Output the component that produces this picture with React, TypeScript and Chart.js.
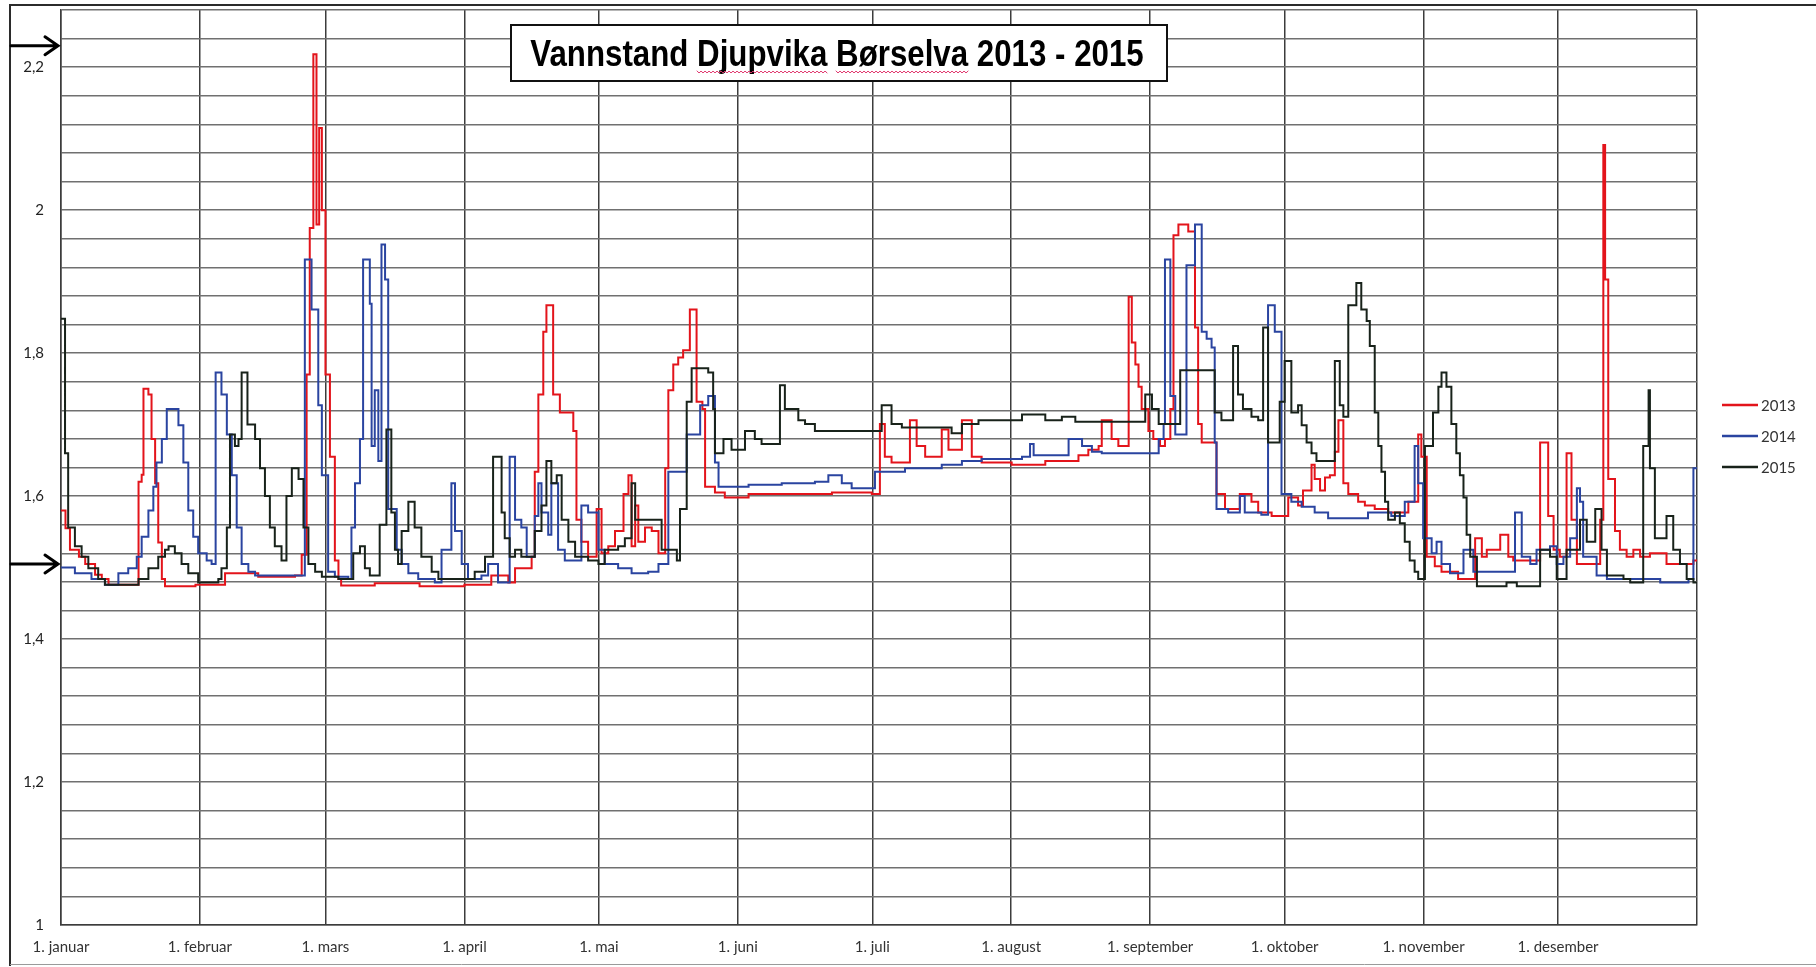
import React, { useEffect, useRef } from "react";
import { Chart, registerables } from "chart.js";

Chart.register(...registerables);

// ---------- axis definitions ----------
const MONTH_DAYS = [0, 31, 59, 90, 120, 151, 181, 212, 243, 273, 304, 334];
const MONTH_LABELS = [
  "1. januar", "1. februar", "1. mars", "1. april", "1. mai", "1. juni",
  "1. juli", "1. august", "1. september", "1. oktober", "1. november", "1. desember",
];
const YEAR_END = 365;
const Y_MIN = 1;
const Y_MAX = 2.28;
const Y_GRID_STEP = 0.04;
const Y_LABEL_STEP = 0.2;
const Y_LABEL_MAX = 2.2;
const ARROW_LEVELS = [2.23, 1.505];

const TITLE = "Vannstand Djupvika Børselva 2013 - 2015";
const SPELL_MARKED = ["Djupvika", "Børselva"];
const SERIES_LABELS = ["2013", "2014", "2015"];
const SERIES_COLORS = ["#e3141b", "#2a44a0", "#18221a"];

// ---------- 2013 (day of year, water level) ----------
const RED_DAYS = [
  0, 1, 2, 4, 5.4, 7.6, 9.1, 10.6, 17.3, 18, 18.4, 19.5, 20.2, 21, 21.7, 22.5, 23.2, 30, 36.6, 44,
  52.2, 53.7, 54.8, 55.5, 56.3, 57, 57.6, 58.2, 59, 60, 61.1, 61.9, 62.5, 70, 80, 90, 96, 99.8, 101.3, 105,
  105.7, 106.5, 107.6, 108.3, 109.8, 111.3, 114.3, 115, 116.1, 117.6, 119.5, 120.6, 122.1, 123.6, 125.5, 126.6, 127.3, 128.1, 128.8, 130.3,
  131.8, 133.3, 134.8, 135.5, 136.6, 137.7, 138.8, 140.3, 141.8, 143.1, 143.7, 145.9, 148.1, 153.4, 172, 180.9, 182.7, 183.8, 185.3, 189.4,
  190.9, 192.8, 196.5, 198, 201, 203.2, 205.4, 212.1, 219.6, 227, 229.2, 231.5, 232.2, 234.4, 235.9, 238.2, 238.9, 239.7, 240.4, 241.1,
  242.6, 243.7, 245.2, 246.3, 247.5, 248.2, 249.3, 251.5, 253, 253.7, 254.5, 257.8, 259.7, 263, 265.6, 267.1, 270.1, 273.8, 276, 277.1,
  279, 279.7, 280.9, 282, 283.1, 284.2, 285, 286.1, 287.2, 289.4, 290.9, 293.1, 296.1, 300.6, 302.8, 303.5, 304.7, 306.5, 308, 311.7,
  315.5, 317, 318.1, 321.1, 322.9, 324, 330, 331.8, 333, 334.4, 335.9, 337, 338.2, 343.4, 344.1, 344.5, 345.2, 346.7, 347.8, 349.3,
  350.8, 352.3, 354.5, 358.2, 364.2, 365,
];
const RED_LEVELS = [
  1.58, 1.555, 1.525, 1.515, 1.505, 1.49, 1.484, 1.476, 1.62, 1.63, 1.75, 1.742, 1.68, 1.618, 1.535, 1.484, 1.474, 1.476, 1.492, 1.487,
  1.489, 1.518, 1.77, 1.975, 2.218, 1.98, 2.115, 2.0, 1.77, 1.655, 1.51, 1.484, 1.475, 1.478, 1.474, 1.476, 1.489, 1.479, 1.499, 1.515,
  1.634, 1.742, 1.83, 1.867, 1.742, 1.717, 1.691, 1.567, 1.536, 1.515, 1.582, 1.52, 1.53, 1.551, 1.603, 1.629, 1.53, 1.587, 1.536, 1.556,
  1.551, 1.52, 1.639, 1.748, 1.784, 1.794, 1.804, 1.861, 1.732, 1.722, 1.613, 1.605, 1.598, 1.603, 1.605, 1.603, 1.701, 1.655, 1.647, 1.706,
  1.67, 1.655, 1.693, 1.665, 1.706, 1.655, 1.647, 1.644, 1.649, 1.657, 1.665, 1.67, 1.706, 1.68, 1.67, 1.879, 1.815, 1.784, 1.753, 1.722,
  1.691, 1.68, 1.67, 1.68, 1.722, 1.965, 1.98, 1.97, 1.836, 1.701, 1.675, 1.603, 1.582, 1.603, 1.592, 1.577, 1.572, 1.598, 1.587, 1.608,
  1.644, 1.624, 1.608, 1.626, 1.629, 1.662, 1.706, 1.618, 1.603, 1.592, 1.587, 1.582, 1.577, 1.592, 1.686, 1.655, 1.515, 1.502, 1.494, 1.484,
  1.541, 1.515, 1.525, 1.546, 1.515, 1.51, 1.675, 1.572, 1.525, 1.515, 1.66, 1.567, 1.505, 1.567, 2.091, 1.903, 1.624, 1.551, 1.525, 1.515,
  1.525, 1.515, 1.52, 1.505, 1.51, 1.51,
];

// ---------- 2014 ----------
const BLUE_DAYS = [
  0, 3.1, 6.8, 9.8, 12.8, 15, 16.9, 18, 19.5, 20.6, 21.3, 22.5, 23.6, 26.2, 27.3, 28.4, 29.5, 30.6, 32.5, 33.6,
  34.5, 35.8, 37, 38.1, 39.2, 40.3, 41.8, 43.3, 54.4, 55.9, 57.4, 58.2, 59.6, 61.1, 64.1, 64.8, 65.6, 66.7, 67.4, 68.9,
  69.3, 70, 70.8, 71.5, 72.3, 73, 74.9, 76, 77.5, 79.7, 83.4, 84.9, 87.1, 87.9, 89.4, 90.8, 93.8, 95.3, 97.5, 100.1,
  101.3, 102.7, 103.9, 105.7, 106.5, 107.2, 108.7, 109.4, 110.9, 112.4, 116.1, 117.6, 119.9, 121.3, 124.3, 127.3, 131, 133.3, 135.5, 139.6,
  142.6, 144.4, 145.9, 146.7, 153.4, 160.8, 168.2, 171.2, 174.2, 176.4, 181.6, 188.3, 196.5, 201, 205.4, 214.4, 216.2, 217, 224.8, 227.8,
  230, 232.2, 244.9, 246, 246.3, 247.5, 248.6, 251.1, 253, 254.5, 255.6, 256.7, 257.4, 257.8, 260.4, 263, 264.1, 267.8, 269.3, 270.8,
  272.3, 274.5, 276.8, 279.7, 282.7, 291.6, 296.8, 299.8, 302, 302.8, 303.9, 305.8, 306.9, 308, 309.9, 312.9, 315.1, 324.4, 325.9, 327.8,
  329.2, 332.2, 333.7, 335.2, 336.7, 338.2, 338.9, 339.6, 342.6, 344.9, 356.8, 363.1, 364.2, 365,
];
const BLUE_LEVELS = [
  1.5, 1.492, 1.484, 1.476, 1.492, 1.499, 1.515, 1.543, 1.58, 1.613, 1.647, 1.68, 1.722, 1.699, 1.647, 1.58, 1.543, 1.52, 1.51, 1.505,
  1.773, 1.742, 1.686, 1.629, 1.556, 1.505, 1.494, 1.489, 1.931, 1.861, 1.727, 1.629, 1.494, 1.487, 1.484, 1.556, 1.618, 1.68, 1.931, 1.869,
  1.67, 1.748, 1.649, 1.952, 1.903, 1.582, 1.525, 1.505, 1.492, 1.484, 1.479, 1.525, 1.618, 1.551, 1.505, 1.484, 1.489, 1.505, 1.479, 1.655,
  1.567, 1.556, 1.515, 1.572, 1.618, 1.577, 1.546, 1.618, 1.525, 1.51, 1.587, 1.577, 1.525, 1.505, 1.499, 1.492, 1.494, 1.505, 1.634, 1.686,
  1.727, 1.74, 1.647, 1.613, 1.616, 1.618, 1.62, 1.629, 1.618, 1.611, 1.634, 1.639, 1.644, 1.649, 1.652, 1.655, 1.673, 1.657, 1.68, 1.67,
  1.662, 1.66, 1.68, 1.701, 1.931, 1.74, 1.686, 1.923, 1.98, 1.83, 1.82, 1.808, 1.675, 1.582, 1.577, 1.6, 1.577, 1.574, 1.867, 1.83,
  1.603, 1.592, 1.585, 1.577, 1.569, 1.577, 1.572, 1.592, 1.67, 1.618, 1.541, 1.52, 1.536, 1.505, 1.492, 1.525, 1.494, 1.577, 1.515, 1.505,
  1.525, 1.53, 1.505, 1.515, 1.541, 1.611, 1.592, 1.515, 1.489, 1.484, 1.479, 1.484, 1.639, 1.639,
];

// ---------- 2015 ----------
const BLACK_DAYS = [
  0, 0.9, 1.6, 3.1, 4.6, 6.1, 8.3, 9.8, 17.3, 19.5, 21.7, 23.2, 24, 25.4, 26.9, 28.4, 30.6, 35.1, 35.8, 37,
  37.7, 38.8, 39.6, 40.3, 41.6, 43.3, 44.4, 45.5, 46.6, 47.7, 49.2, 50.3, 51.5, 53, 54.1, 55.2, 56.7, 58.2, 61.9, 65.2,
  66.7, 67.8, 68.9, 71.1, 72.6, 73.7, 74.5, 75.2, 76, 77.5, 78.9, 80.4, 82.7, 84.2, 92.3, 94.6, 96.4, 98.3, 99, 100.1,
  101.3, 102.7, 105.7, 107.2, 108.3, 109.4, 110.6, 111.7, 113.2, 114.7, 117.6, 119.9, 121.3, 124.3, 125.8, 127.3, 128.1, 134, 137.4, 138.1,
  139.6, 140.7, 144.4, 145.5, 145.9, 147.8, 149.6, 152.6, 154.8, 156.3, 160.4, 161.5, 164.5, 166, 168.2, 180.9, 183.1, 185.3, 187.6, 198.7,
  201, 204.7, 214.4, 219.6, 223.3, 226.3, 241.9, 243.4, 244.9, 249.7, 257.4, 258.9, 261.5, 262.6, 263.7, 265.6, 267.1, 268.2, 269.3, 271.9,
  273, 274.5, 276, 276.8, 277.9, 279, 280.1, 284.2, 285.3, 286.1, 287.2, 289, 290.1, 291.3, 292, 293.1, 293.9, 294.6, 295.4, 296.1,
  297.6, 298.7, 299.8, 300.9, 302, 302.8, 304.3, 306.1, 307.3, 308, 309.1, 310.2, 311.3, 312.1, 312.9, 313.6, 314.4, 315.9, 322.5, 324.8,
  330, 332.2, 333.7, 335.9, 338.9, 340.4, 342.3, 343.7, 344.9, 348.6, 350.1, 353, 354.2, 354.5, 355.6, 358.2, 359.7, 361.2, 362.7, 364.2,
  365,
];
const BLACK_LEVELS = [
  1.848, 1.66, 1.556, 1.53, 1.515, 1.499, 1.484, 1.476, 1.484, 1.499, 1.515, 1.525, 1.53, 1.52, 1.505, 1.492, 1.479, 1.484, 1.499, 1.556,
  1.686, 1.67, 1.68, 1.773, 1.7, 1.68, 1.639, 1.6, 1.556, 1.53, 1.51, 1.6, 1.639, 1.624, 1.556, 1.505, 1.494, 1.487, 1.484, 1.52,
  1.53, 1.499, 1.489, 1.56, 1.693, 1.577, 1.525, 1.505, 1.551, 1.592, 1.556, 1.515, 1.494, 1.484, 1.494, 1.515, 1.655, 1.577, 1.541, 1.515,
  1.525, 1.515, 1.551, 1.587, 1.649, 1.618, 1.629, 1.567, 1.536, 1.515, 1.51, 1.505, 1.525, 1.53, 1.541, 1.618, 1.567, 1.525, 1.51, 1.582,
  1.732, 1.779, 1.773, 1.722, 1.66, 1.68, 1.665, 1.691, 1.68, 1.673, 1.755, 1.722, 1.706, 1.701, 1.691, 1.691, 1.727, 1.701, 1.696, 1.688,
  1.701, 1.706, 1.714, 1.706, 1.711, 1.704, 1.742, 1.722, 1.701, 1.776, 1.717, 1.706, 1.81, 1.742, 1.722, 1.711, 1.706, 1.836, 1.675, 1.732,
  1.789, 1.717, 1.727, 1.699, 1.675, 1.66, 1.649, 1.789, 1.727, 1.711, 1.867, 1.898, 1.861, 1.845, 1.81, 1.717, 1.67, 1.634, 1.592, 1.567,
  1.577, 1.562, 1.536, 1.51, 1.494, 1.484, 1.67, 1.717, 1.753, 1.773, 1.753, 1.701, 1.66, 1.629, 1.598, 1.546, 1.515, 1.474, 1.479, 1.474,
  1.525, 1.515, 1.484, 1.525, 1.567, 1.536, 1.582, 1.525, 1.489, 1.484, 1.479, 1.67, 1.748, 1.639, 1.541, 1.572, 1.525, 1.505, 1.484, 1.479,
  1.479,
];

const SERIES_DAYS = [RED_DAYS, BLUE_DAYS, BLACK_DAYS];
const SERIES_LEVELS = [RED_LEVELS, BLUE_LEVELS, BLACK_LEVELS];

const round2 = (v: number) => Math.round(v * 100) / 100;
const Y_TICKS: number[] = [];
for (let i = 0; round2(Y_MIN + i * Y_GRID_STEP) <= Y_MAX + 1e-9; i++) {
  Y_TICKS.push(round2(Y_MIN + i * Y_GRID_STEP));
}

const FONT_LABEL = "Lato, 'Open Sans', sans-serif";

const decorPlugin = {
  id: "decor",
  afterDraw(chart: any) {
    const { ctx, chartArea, scales } = chart;
    const yScale = scales.y;
    ctx.save();

    // outer frame
    ctx.strokeStyle = "#2b2b2b";
    ctx.lineWidth = 2;
    ctx.beginPath();
    ctx.moveTo(10, 966);
    ctx.lineTo(10, 5);
    ctx.lineTo(1816, 5);
    ctx.stroke();
    ctx.strokeStyle = "#9a9a9a";
    ctx.lineWidth = 1;
    ctx.beginPath();
    ctx.moveTo(10, 964.5);
    ctx.lineTo(1816, 964.5);
    ctx.stroke();

    // arrows
    ctx.strokeStyle = "#000";
    ctx.lineWidth = 3;
    ctx.lineCap = "round";
    for (const lvl of ARROW_LEVELS) {
      const y = yScale.getPixelForValue(lvl);
      const tip = chartArea.left - 3;
      ctx.beginPath();
      ctx.moveTo(11, y);
      ctx.lineTo(tip, y);
      ctx.moveTo(tip - 13, y - 9);
      ctx.lineTo(tip, y);
      ctx.lineTo(tip - 13, y + 9);
      ctx.stroke();
    }

    // title box
    const bx = 511, by = 25, bw = 656, bh = 56;
    ctx.fillStyle = "#fff";
    ctx.fillRect(bx, by, bw, bh);
    ctx.strokeStyle = "#111";
    ctx.lineWidth = 2;
    ctx.strokeRect(bx, by, bw, bh);

    const sx = 0.845;
    ctx.font = "bold 37px 'Liberation Sans', Arial, sans-serif";
    ctx.textBaseline = "alphabetic";
    ctx.textAlign = "left";
    const fullW = ctx.measureText(TITLE).width * sx;
    const cx = bx + bw / 2 - 2;
    const startX = cx - fullW / 2;
    const baseY = by + bh / 2 + 13;
    ctx.save();
    ctx.translate(startX, baseY);
    ctx.scale(sx, 1);
    ctx.fillStyle = "#000";
    ctx.fillText(TITLE, 0, 0);
    ctx.restore();

    // spell-check squiggles
    ctx.strokeStyle = "#e0336b";
    ctx.lineWidth = 1;
    for (const word of SPELL_MARKED) {
      const idx = TITLE.indexOf(word);
      if (idx < 0) continue;
      const x0 = startX + ctx.measureText(TITLE.slice(0, idx)).width * sx;
      const w = ctx.measureText(word).width * sx;
      const yy = baseY + 6;
      ctx.beginPath();
      for (let k = 0; k <= w; k += 2) {
        const yk = yy + ((k / 2) % 2 === 0 ? -1 : 1);
        if (k === 0) ctx.moveTo(x0 + k, yk);
        else ctx.lineTo(x0 + k, yk);
      }
      ctx.stroke();
    }

    // legend
    ctx.font = `15px ${FONT_LABEL}`;
    ctx.textBaseline = "middle";
    ctx.lineCap = "butt";
    chart.data.datasets.forEach((ds: any, i: number) => {
      const y = 405 + i * 31;
      ctx.strokeStyle = ds.borderColor;
      ctx.lineWidth = 2.5;
      ctx.beginPath();
      ctx.moveTo(1722, y);
      ctx.lineTo(1758, y);
      ctx.stroke();
      ctx.fillStyle = "#333";
      ctx.fillText(ds.label, 1761, y + 1);
    });

    ctx.restore();
  },
};

export default function App() {
  const canvasRef = useRef<HTMLCanvasElement | null>(null);

  useEffect(() => {
    const canvas = canvasRef.current;
    if (!canvas) return;
    const datasets = SERIES_LABELS.map((label, s) => ({
      label,
      data: SERIES_DAYS[s].map((d, i) => ({ x: d, y: SERIES_LEVELS[s][i] })),
      borderColor: SERIES_COLORS[s],
      backgroundColor: SERIES_COLORS[s],
      borderWidth: 2,
      pointRadius: 0,
      stepped: "before" as const,
      fill: false,
      order: 3 - s,
    }));

    const chart = new Chart(canvas, {
      type: "line",
      data: { datasets },
      options: {
        animation: false,
        responsive: false,
        devicePixelRatio: 1,
        maintainAspectRatio: false,
        layout: { padding: { left: 0, top: 10, right: 119, bottom: 0 } },
        plugins: { legend: { display: false }, tooltip: { enabled: false }, title: { display: false } },
        scales: {
          x: {
            type: "linear",
            min: 0,
            max: YEAR_END,
            afterBuildTicks: (s: any) => {
              s.ticks = [...MONTH_DAYS, YEAR_END].map((v) => ({ value: v }));
            },
            afterFit: (s: any) => {
              s.height = 42;
              s.paddingLeft = 0;
              s.paddingRight = 0;
            },
            ticks: {
              autoSkip: false,
              maxRotation: 0,
              padding: 13,
              color: "#333",
              font: { family: FONT_LABEL, size: 15 },
              callback: (v: any) => {
                const i = MONTH_DAYS.indexOf(Number(v));
                return i >= 0 ? MONTH_LABELS[i] : "";
              },
            },
            grid: { color: "#3c3c3c", lineWidth: 1.5, drawTicks: false },
            border: { display: true, color: "#3c3c3c", width: 1.5 },
          },
          y: {
            type: "linear",
            min: Y_MIN,
            max: Y_MAX,
            afterBuildTicks: (s: any) => {
              s.ticks = Y_TICKS.map((v) => ({ value: v }));
            },
            afterFit: (s: any) => {
              s.width = 61;
              s.paddingTop = 0;
              s.paddingBottom = 0;
            },
            ticks: {
              autoSkip: false,
              padding: 17,
              color: "#222",
              font: { family: FONT_LABEL, size: 15 },
              callback: (v: any) => {
                const n = round2(Number(v));
                const r = Math.round(n * 100) % Math.round(Y_LABEL_STEP * 100);
                if (r !== 0 || n > Y_LABEL_MAX + 1e-9) return "";
                return String(n).replace(".", ",");
              },
            },
            grid: { color: "#707070", lineWidth: 1.5, drawTicks: false },
            border: { display: true, color: "#3c3c3c", width: 1.5 },
          },
        },
      },
      plugins: [decorPlugin],
    });
    return () => chart.destroy();
  }, []);

  return (
    <div style={{ position: "absolute", left: 0, top: 0, width: 1816, height: 967, background: "#fff" }}>
      <canvas ref={canvasRef} width={1816} height={967} style={{ display: "block" }} />
    </div>
  );
}
